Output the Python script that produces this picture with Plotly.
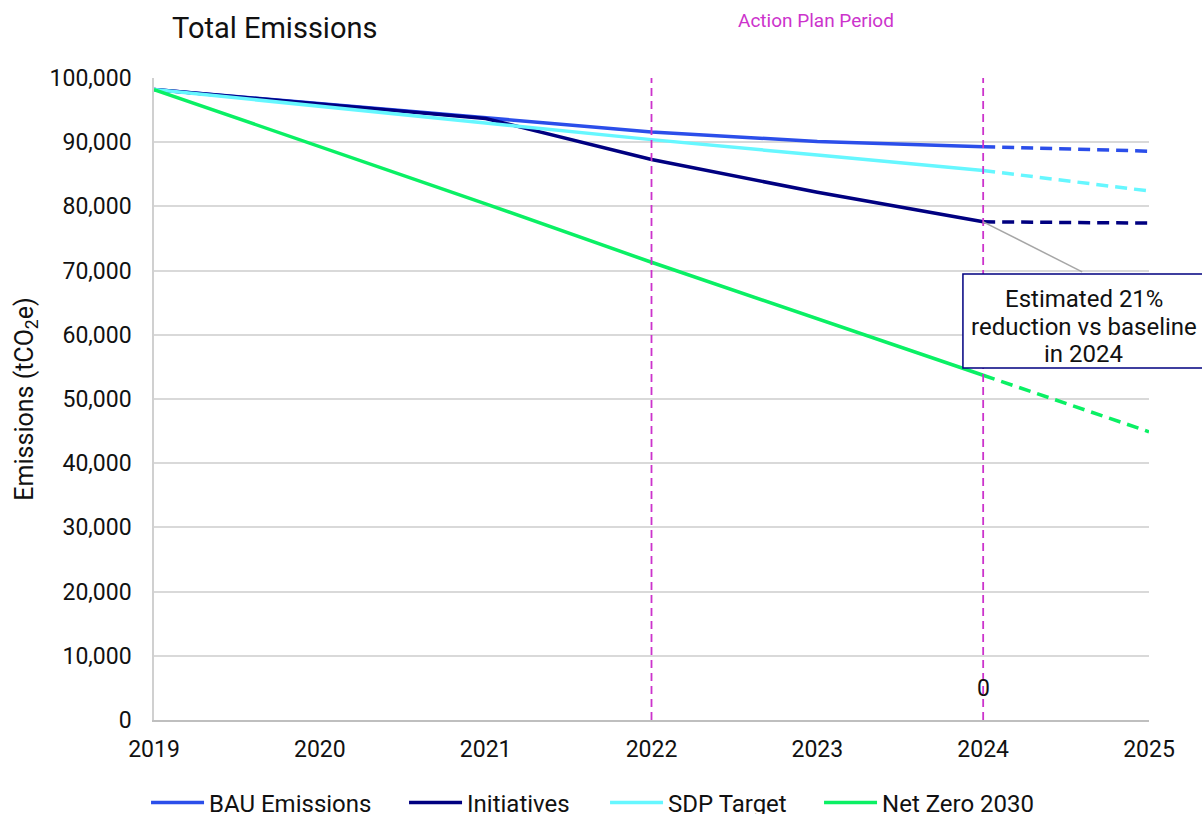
import plotly.graph_objects as go

# Emissions pathways (tCO2e), one value per year
years = [2019, 2020, 2021, 2022, 2023, 2024, 2025]
bau = [98200, 96000, 93700, 91600, 90100, 89300, 88600]
initiatives = [98200, 96000, 93700, 87300, 82200, 77600, 77400]
sdp_target = [98200, 95600, 93000, 90400, 88000, 85600, 82400]
net_zero = [98200, 89300, 80400, 71300, 62500, 53700, 44900]

series_names = ["BAU Emissions", "Initiatives", "SDP Target", "Net Zero 2030"]
series_values = [bau, initiatives, sdp_target, net_zero]
series_colors = ["#2B4EEA", "#000080", "#66F7FF", "#0AF064"]
# Legend entry widths (px) to space the horizontal legend
legend_widths = [190, 133, 146, None]

# Action plan period boundaries
period_years = [2022, 2024]
zero_label_year = 2024
zero_label_value = 0

callout_lines = ["Estimated 21%", "reduction vs baseline", "in 2024"]

FONT = "Roboto"
TXT = "#111111"
MAGENTA = "#CC33CC"

fig = go.Figure()

# Actuals/plan up to 2024 solid, projection to 2025 dashed
split = years.index(2024)
for name, vals, col, lw in zip(series_names, series_values, series_colors, legend_widths):
    fig.add_trace(go.Scatter(
        x=years[:split + 1], y=vals[:split + 1], mode="lines", name=name,
        line=dict(color=col, width=3.5), showlegend=True, legendwidth=lw,
    ))
    fig.add_trace(go.Scatter(
        x=years[split:], y=vals[split:], mode="lines", name=name,
        line=dict(color=col, width=3.5, dash="12px,7px"), showlegend=False,
    ))

shapes = []
for yr in period_years:
    shapes.append(dict(type="line", xref="x", yref="paper", x0=yr, x1=yr, y0=0, y1=1,
                       line=dict(color=MAGENTA, width=1.8, dash="8px,5px")))
# Connector from the 2024 initiatives point to the callout
shapes.append(dict(type="line", xref="x", yref="y", x0=2024, y0=initiatives[split],
                   x1=2024.597, y1=69800, line=dict(color="#A6A6A6", width=1.5)))
# Callout box
shapes.append(dict(type="rect", xref="paper", yref="paper", x0=0.813, x1=1.058,
                   y0=0.5483, y1=0.6947, fillcolor="white",
                   line=dict(color="#000080", width=1.5), layer="above"))

annotations = [
    dict(text="Total Emissions", xref="paper", yref="paper", x=0.016, y=1.078,
         xanchor="left", yanchor="middle", showarrow=False,
         font=dict(family=FONT, size=29, color=TXT)),
    dict(text="Action Plan Period", xref="paper", yref="paper", x=0.665, y=1.089,
         xanchor="center", yanchor="middle", showarrow=False,
         font=dict(family=FONT, size=19, color=MAGENTA)),
    # Zero value label on the 2024 line
    dict(text=f"{zero_label_value:,}", xref="x", yref="y", x=zero_label_year,
         y=zero_label_value, yshift=32, xanchor="center", yanchor="middle",
         showarrow=False, font=dict(family=FONT, size=23, color=TXT)),
]
for i, line in enumerate(callout_lines):
    annotations.append(dict(
        text=line, xref="paper", yref="paper", x=0.9345, y=0.6550 - i * 0.0428,
        xanchor="center", yanchor="middle", showarrow=False,
        font=dict(family=FONT, size=24, color=TXT)))

fig.update_layout(
    width=1202, height=814,
    margin=dict(l=154, r=53, t=78, b=94, autoexpand=False),
    paper_bgcolor="white", plot_bgcolor="white",
    font=dict(family=FONT, size=23, color=TXT),
    shapes=shapes, annotations=annotations,
    legend=dict(orientation="h", x=-0.008, xanchor="left", y=-0.129, yanchor="middle",
                font=dict(family=FONT, size=24, color=TXT), itemwidth=53,
                bgcolor="rgba(0,0,0,0)"),
    xaxis=dict(range=[2019, 2025], dtick=1, tick0=2019, showgrid=False,
               showline=True, linecolor="#BFBFBF", linewidth=1.5, zeroline=False,
               ticks="", ticklabelstandoff=8, tickfont=dict(size=23)),
    yaxis=dict(range=[0, 100000], dtick=10000, tickformat=",", showgrid=True,
               gridcolor="#D9D9D9", gridwidth=1.5, showline=True, linecolor="#D0D0D0",
               linewidth=1.5, zeroline=False, ticks="", ticklabelstandoff=16,
               tickfont=dict(size=23),
               title=dict(text="Emissions (tCO<sub>2</sub>e)", standoff=9,
                          font=dict(family=FONT, size=25, color=TXT))),
)

fig.write_html("out.html")
